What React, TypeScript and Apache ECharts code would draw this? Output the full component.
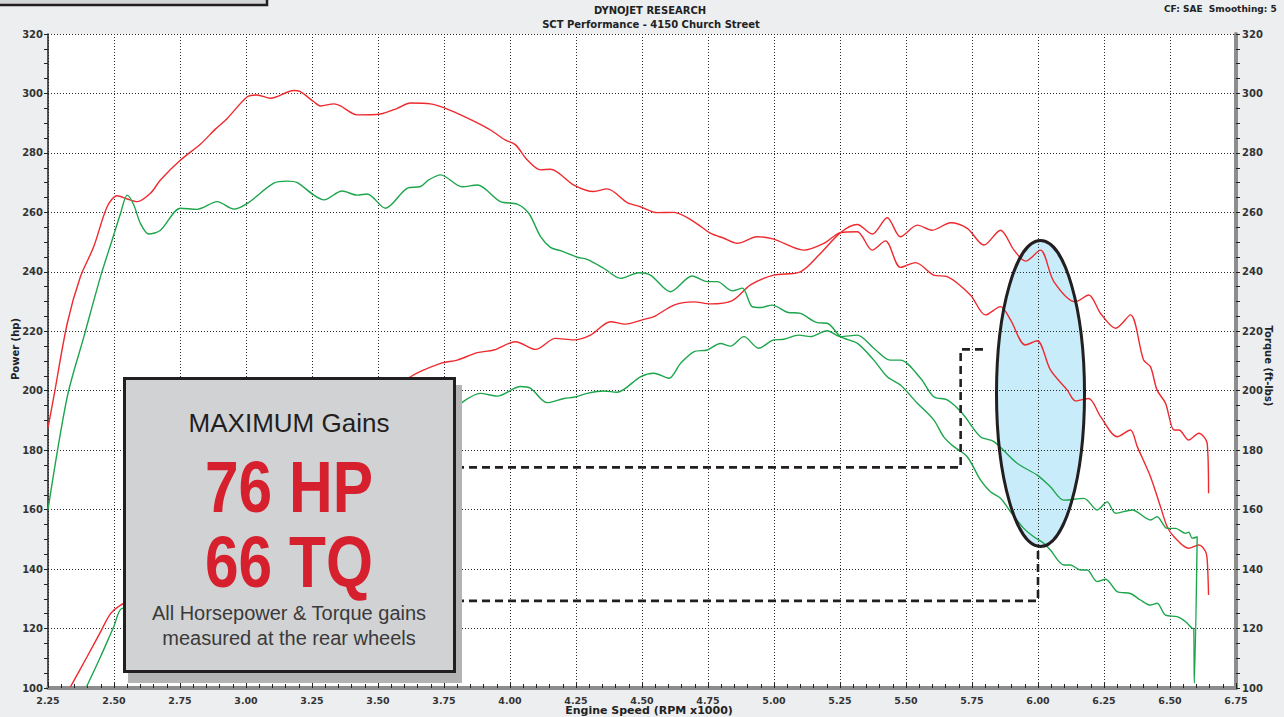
import React, { useEffect, useRef } from "react";
import * as echarts from "echarts";

// ---------- data (RPM x1000 / value) ----------
const redTqRpm = [2.25, 2.272, 2.323, 2.373, 2.423, 2.474, 2.512, 2.55, 2.588, 2.638, 2.676, 2.752, 2.828, 2.884, 2.929, 3.005, 3.042, 3.093, 3.181, 3.206, 3.257, 3.282, 3.333, 3.358, 3.421, 3.509, 3.573, 3.623, 3.699, 3.756, 3.813, 3.869, 3.926, 3.983, 4.021, 4.066, 4.116, 4.153, 4.242, 4.317, 4.368, 4.444, 4.494, 4.558, 4.621, 4.696, 4.759, 4.81, 4.861, 4.936, 4.999, 5.113, 5.189, 5.252, 5.315, 5.372, 5.422, 5.479, 5.536, 5.605, 5.656, 5.744, 5.801, 5.858, 5.896, 5.952, 5.997, 6.047, 6.111, 6.142, 6.192, 6.237, 6.3, 6.35, 6.376, 6.426, 6.464, 6.489, 6.515, 6.571, 6.609, 6.634, 6.641, 6.646];
const redTq = [187.5, 198, 222.7, 238.4, 248.4, 261.9, 265.6, 264.5, 263.6, 266.4, 270.9, 277.6, 283, 288, 291.6, 298.9, 299.5, 298.4, 301, 300.6, 297.2, 295.8, 296.5, 295.8, 292.8, 293.1, 295, 296.8, 296.5, 295, 292.8, 290.4, 287.7, 284.3, 282.7, 277.6, 274.3, 274.5, 269.2, 267, 267.9, 263.3, 261.9, 259.9, 260, 256.9, 253, 251.3, 249.6, 251.8, 251, 247.3, 249.6, 253.2, 253.5, 247.3, 250.4, 241.5, 243.1, 238.9, 238.4, 232.2, 225.5, 228.3, 223.8, 215.4, 216.8, 207, 200.2, 196.6, 197.4, 191.3, 184.5, 186.8, 181.2, 171.1, 161, 154.3, 150.9, 147, 148.1, 146, 143, 131.3];

const redHpRpm = [2.335, 2.398, 2.449, 2.487, 2.525, 2.6, 2.75, 3.0, 3.25, 3.5, 3.623, 3.737, 3.8, 3.876, 3.939, 4.021, 4.097, 4.172, 4.242, 4.305, 4.381, 4.437, 4.507, 4.545, 4.621, 4.696, 4.759, 4.842, 4.911, 4.999, 5.1, 5.176, 5.252, 5.315, 5.372, 5.429, 5.479, 5.543, 5.599, 5.669, 5.732, 5.795, 5.858, 5.909, 5.953, 6.009, 6.06, 6.142, 6.192, 6.237, 6.294, 6.35, 6.4, 6.426, 6.451, 6.483, 6.515, 6.534, 6.571, 6.609, 6.641, 6.646];
const redHp = [100.4, 110.5, 118.9, 125, 127.9, 131, 146, 170, 183, 196, 204.7, 209.2, 210.3, 212.8, 213.7, 216.5, 213.9, 217.6, 217.1, 218.7, 223.2, 222.4, 224, 224.9, 228.8, 229.9, 229.2, 230.3, 235.6, 238.9, 240, 246.2, 253.2, 255.9, 252.7, 258.2, 251.8, 255.7, 254, 256.5, 254.6, 249, 254, 247.3, 243.6, 247.3, 236.7, 229.9, 232.2, 226, 221, 225.5, 210.3, 208.1, 200.2, 195.8, 186.8, 186.8, 183.4, 185.7, 182.3, 165.5];

const greenTqRpm = [2.25, 2.323, 2.386, 2.449, 2.493, 2.525, 2.55, 2.575, 2.6, 2.632, 2.676, 2.752, 2.815, 2.891, 2.954, 3.005, 3.105, 3.156, 3.194, 3.257, 3.295, 3.364, 3.421, 3.459, 3.528, 3.61, 3.661, 3.692, 3.737, 3.819, 3.876, 3.964, 4.027, 4.071, 4.116, 4.153, 4.191, 4.255, 4.292, 4.355, 4.419, 4.488, 4.532, 4.608, 4.69, 4.747, 4.785, 4.842, 4.88, 4.917, 4.949, 4.993, 5.05, 5.1, 5.164, 5.202, 5.252, 5.315, 5.378, 5.429, 5.479, 5.543, 5.605, 5.643, 5.681, 5.732, 5.782, 5.82, 5.858, 5.896, 5.946, 5.984, 6.022, 6.047, 6.098, 6.123, 6.161, 6.186, 6.224, 6.256, 6.3, 6.35, 6.388, 6.426, 6.451, 6.483, 6.527, 6.559, 6.584, 6.59, 6.592, 6.603];
const greenTq = [160, 198, 218.2, 238.4, 250.7, 259.7, 265.8, 262.5, 256.3, 252.7, 254, 261.4, 261, 263.6, 261.1, 263, 269.8, 270.5, 270, 265.8, 264.2, 267.2, 265.8, 266.2, 261.4, 268.1, 268.7, 270.9, 272.6, 268.6, 269.2, 263.6, 262.8, 259.7, 251.8, 248.2, 247.1, 244.9, 244.2, 241.2, 237.8, 239.7, 238.9, 233.3, 238.6, 236.7, 236.7, 233.6, 234.5, 228.3, 228, 228.8, 226.4, 226, 222.9, 222.7, 218.2, 216, 210.3, 204.7, 201.9, 195.8, 190.2, 184.5, 181.2, 177.8, 170, 166, 163.8, 159.3, 153.7, 150.9, 148.7, 146.4, 141.4, 141.4, 139.7, 139.7, 135.8, 136.6, 132.4, 131.8, 129.6, 127.9, 128.5, 124.5, 124, 122.3, 120.1, 120, 101.6, 151];

const greenHpRpm = [2.396, 2.449, 2.499, 2.531, 2.6, 2.75, 3.0, 3.25, 3.5, 3.7, 3.793, 3.888, 3.951, 4.04, 4.078, 4.141, 4.204, 4.242, 4.292, 4.355, 4.405, 4.494, 4.545, 4.602, 4.646, 4.696, 4.747, 4.797, 4.835, 4.886, 4.942, 4.999, 5.037, 5.094, 5.138, 5.201, 5.252, 5.315, 5.378, 5.44, 5.479, 5.555, 5.605, 5.656, 5.713, 5.782, 5.833, 5.921, 5.997, 6.047, 6.098, 6.174, 6.224, 6.262, 6.294, 6.357, 6.426, 6.451, 6.489, 6.521, 6.559, 6.571, 6.584, 6.603];
const greenHp = [100.4, 110.5, 120.6, 126.8, 127, 137, 150, 164, 174, 190, 194.6, 199.1, 198.2, 201.4, 200.8, 196, 197.4, 197.8, 199.1, 199.9, 199.5, 204.7, 205.9, 204.2, 209.2, 213.1, 213.7, 215.9, 215, 218.2, 214.3, 217.1, 217.3, 218.7, 218.2, 220.2, 218.2, 218.7, 214.3, 210.3, 210.3, 204.2, 198, 196.9, 192.4, 184.5, 182.9, 175.6, 171.6, 167.7, 163.2, 163.8, 159.9, 162.6, 158.8, 159.9, 156.5, 157.6, 153.7, 153.7, 152, 152.4, 150.4, 150.8];

// dashed gain markers (rpm, value)
const gainLineTop = [[3.5, 174.2], [5.707, 174.2], [5.707, 213.9], [5.795, 213.9]];
const gainLineBottom = [[3.5, 129.3], [6.0, 129.3], [6.0, 148]];

const xTickMin = 2.25;
const xTickMax = 6.75;
const xTickStep = 0.25;
const yTickMin = 100;
const yTickMax = 320;
const yTickStep = 20;

const titleLines = ["DYNOJET RESEARCH", "SCT Performance - 4150 Church Street"];
const cornerNote = "CF: SAE  Smoothing: 5";
const boxLines = ["MAXIMUM Gains", "76 HP", "66 TQ", "All Horsepower & Torque gains", "measured at the rear wheels"];

const RED = "#ee2a2f";
const GREEN = "#1da54c";
const INK = "#231f20";
const AXFONT = "DejaVu Sans";

const pair = (xs: number[], ys: number[]) => xs.map((x, i) => [x, ys[i]]);

export default function App() {
  const ref = useRef<HTMLDivElement>(null);
  useEffect(() => {
    if (!ref.current) return;
    const chart = echarts.init(ref.current, undefined, { renderer: "svg" });
    const dotted = { color: "#2a2a2a", type: [1, 2] as any, width: 1 };
    const lineSeries = (name: string, data: number[][], color: string, yIdx: number) => ({
      name,
      type: "line",
      yAxisIndex: yIdx,
      data,
      showSymbol: false,
      symbol: "none",
      smooth: 0.3,
      lineStyle: { color, width: 1.4 },
      z: 2,
    });
    const dashSeries = (name: string, data: number[][]) => ({
      name,
      type: "line",
      data,
      showSymbol: false,
      symbol: "none",
      lineStyle: { color: INK, width: 2.6, type: [8, 5] as any },
      z: 3,
    });
    const txt = (
      text: string,
      x: number,
      y: number,
      font: string,
      fill: string,
      align = "center",
      extra: any = {}
    ) => ({
      type: "text",
      x,
      y,
      z: 120,
      ...extra,
      style: {
        text,
        x: 0,
        y: 0,
        font,
        fill,
        textAlign: align,
        textVerticalAlign: "middle",
        align,
        verticalAlign: "middle",
      },
    });

    chart.setOption({
      animation: false,
      backgroundColor: "transparent",
      grid: { left: 48, right: 48, top: 34, bottom: 29, containLabel: false },
      xAxis: {
        type: "value",
        min: xTickMin,
        max: xTickMax,
        interval: xTickStep,
        axisLine: { show: true, onZero: false, lineStyle: { color: "#8c8c8c", width: 4 } },
        axisTick: { show: true, inside: true, length: 5, lineStyle: { color: "#222", width: 1 } },
        minorTick: { show: true, splitNumber: 5, length: 4, lineStyle: { color: "#222", width: 1 } },
        axisLabel: {
          formatter: (v: number) => v.toFixed(2),
          color: "#333",
          fontFamily: AXFONT,
          fontWeight: "bold",
          fontSize: 9.5,
          margin: 7,
        },
        splitLine: { show: true, lineStyle: dotted },
      },
      yAxis: [
        {
          type: "value",
          position: "left",
          min: yTickMin,
          max: yTickMax,
          interval: yTickStep,
          axisLine: { show: true, onZero: false, lineStyle: { color: "#222", width: 1.5 } },
          axisTick: { show: true, length: 4, lineStyle: { color: "#222" } },
          minorTick: { show: true, splitNumber: 4, length: 4, lineStyle: { color: "#222" } },
          axisLabel: { color: "#333", fontFamily: AXFONT, fontWeight: "bold", fontSize: 10, margin: 5 },
          splitLine: { show: true, lineStyle: dotted },
        },
        {
          type: "value",
          position: "right",
          min: yTickMin,
          max: yTickMax,
          interval: yTickStep,
          axisLine: { show: true, onZero: false, lineStyle: { color: "#8c8c8c", width: 4 } },
          axisTick: { show: true, length: 4, lineStyle: { color: "#222" } },
          minorTick: { show: true, splitNumber: 4, length: 4, lineStyle: { color: "#222" } },
          axisLabel: { color: "#333", fontFamily: AXFONT, fontWeight: "bold", fontSize: 10, margin: 6 },
          splitLine: { show: false },
        },
      ],
      series: [
        lineSeries("Power A", pair(redHpRpm, redHp), RED, 0),
        lineSeries("Torque A", pair(redTqRpm, redTq), RED, 1),
        lineSeries("Power B", pair(greenHpRpm, greenHp), GREEN, 0),
        lineSeries("Torque B", pair(greenTqRpm, greenTq), GREEN, 1),
        dashSeries("Gain HP", gainLineTop),
        dashSeries("Gain TQ", gainLineBottom),
      ],
      graphic: [
        // plot background and highlight
        { type: "rect", z: -10, shape: { x: 48, y: 34, width: 1188, height: 654 }, style: { fill: "#ffffff" } },
        { type: "ellipse", z: -5, shape: { cx: 1040.5, cy: 393.5, rx: 44, ry: 153 }, style: { fill: "#c8ecfa" } },
        {
          type: "ellipse",
          z: 50,
          shape: { cx: 1040.5, cy: 393.5, rx: 44, ry: 153 },
          style: { fill: "none", stroke: INK, lineWidth: 3 },
        },
        // partial box at top-left
        {
          type: "rect",
          z: 100,
          shape: { x: -10, y: -10, width: 277, height: 15 },
          style: { fill: "#d4d5d7", stroke: INK, lineWidth: 2.5 },
        },
        // gains box with drop shadow
        { type: "rect", z: 100, shape: { x: 128, y: 385, width: 334, height: 298 }, style: { fill: "#b4b4b5" } },
        {
          type: "rect",
          z: 101,
          shape: { x: 124.5, y: 378.5, width: 330, height: 293 },
          style: { fill: "#d1d2d4", stroke: INK, lineWidth: 3 },
        },
        txt(boxLines[0], 289, 423, '26px "Liberation Sans"', INK),
        txt(boxLines[1], 289, 487, 'bold 72px "Liberation Sans"', "#d6202e", "center", { scaleX: 0.84 }),
        txt(boxLines[2], 289, 562, 'bold 72px "Liberation Sans"', "#d6202e", "center", { scaleX: 0.84 }),
        txt(boxLines[3], 289, 613, '20px "Liberation Sans"', "#3a3a3a"),
        txt(boxLines[4], 289, 638, '20px "Liberation Sans"', "#3a3a3a"),
        // titles
        txt(titleLines[0], 650, 10, 'bold 10px "DejaVu Sans"', "#222"),
        txt(titleLines[1], 651, 24, 'bold 10px "DejaVu Sans"', "#222"),
        txt(cornerNote, 1164, 9, 'bold 9px "DejaVu Sans"', "#222", "left"),
        // axis names
        txt("Power (hp)", 15, 349, 'bold 10px "DejaVu Sans"', "#222", "center", { rotation: Math.PI / 2 }),
        txt("Torque (ft-lbs)", 1268, 366, 'bold 10px "DejaVu Sans"', "#222", "center", { rotation: -Math.PI / 2 }),
        txt("Engine Speed (RPM x1000)", 649, 710, 'bold 11px "DejaVu Sans"', "#222"),
      ],
    });
    return () => chart.dispose();
  }, []);
  return (
    <div
      ref={ref}
      style={{
        position: "fixed",
        left: 0,
        top: 0,
        width: 1284,
        height: 717,
        background: "#eceef0",
      }}
    />
  );
}
